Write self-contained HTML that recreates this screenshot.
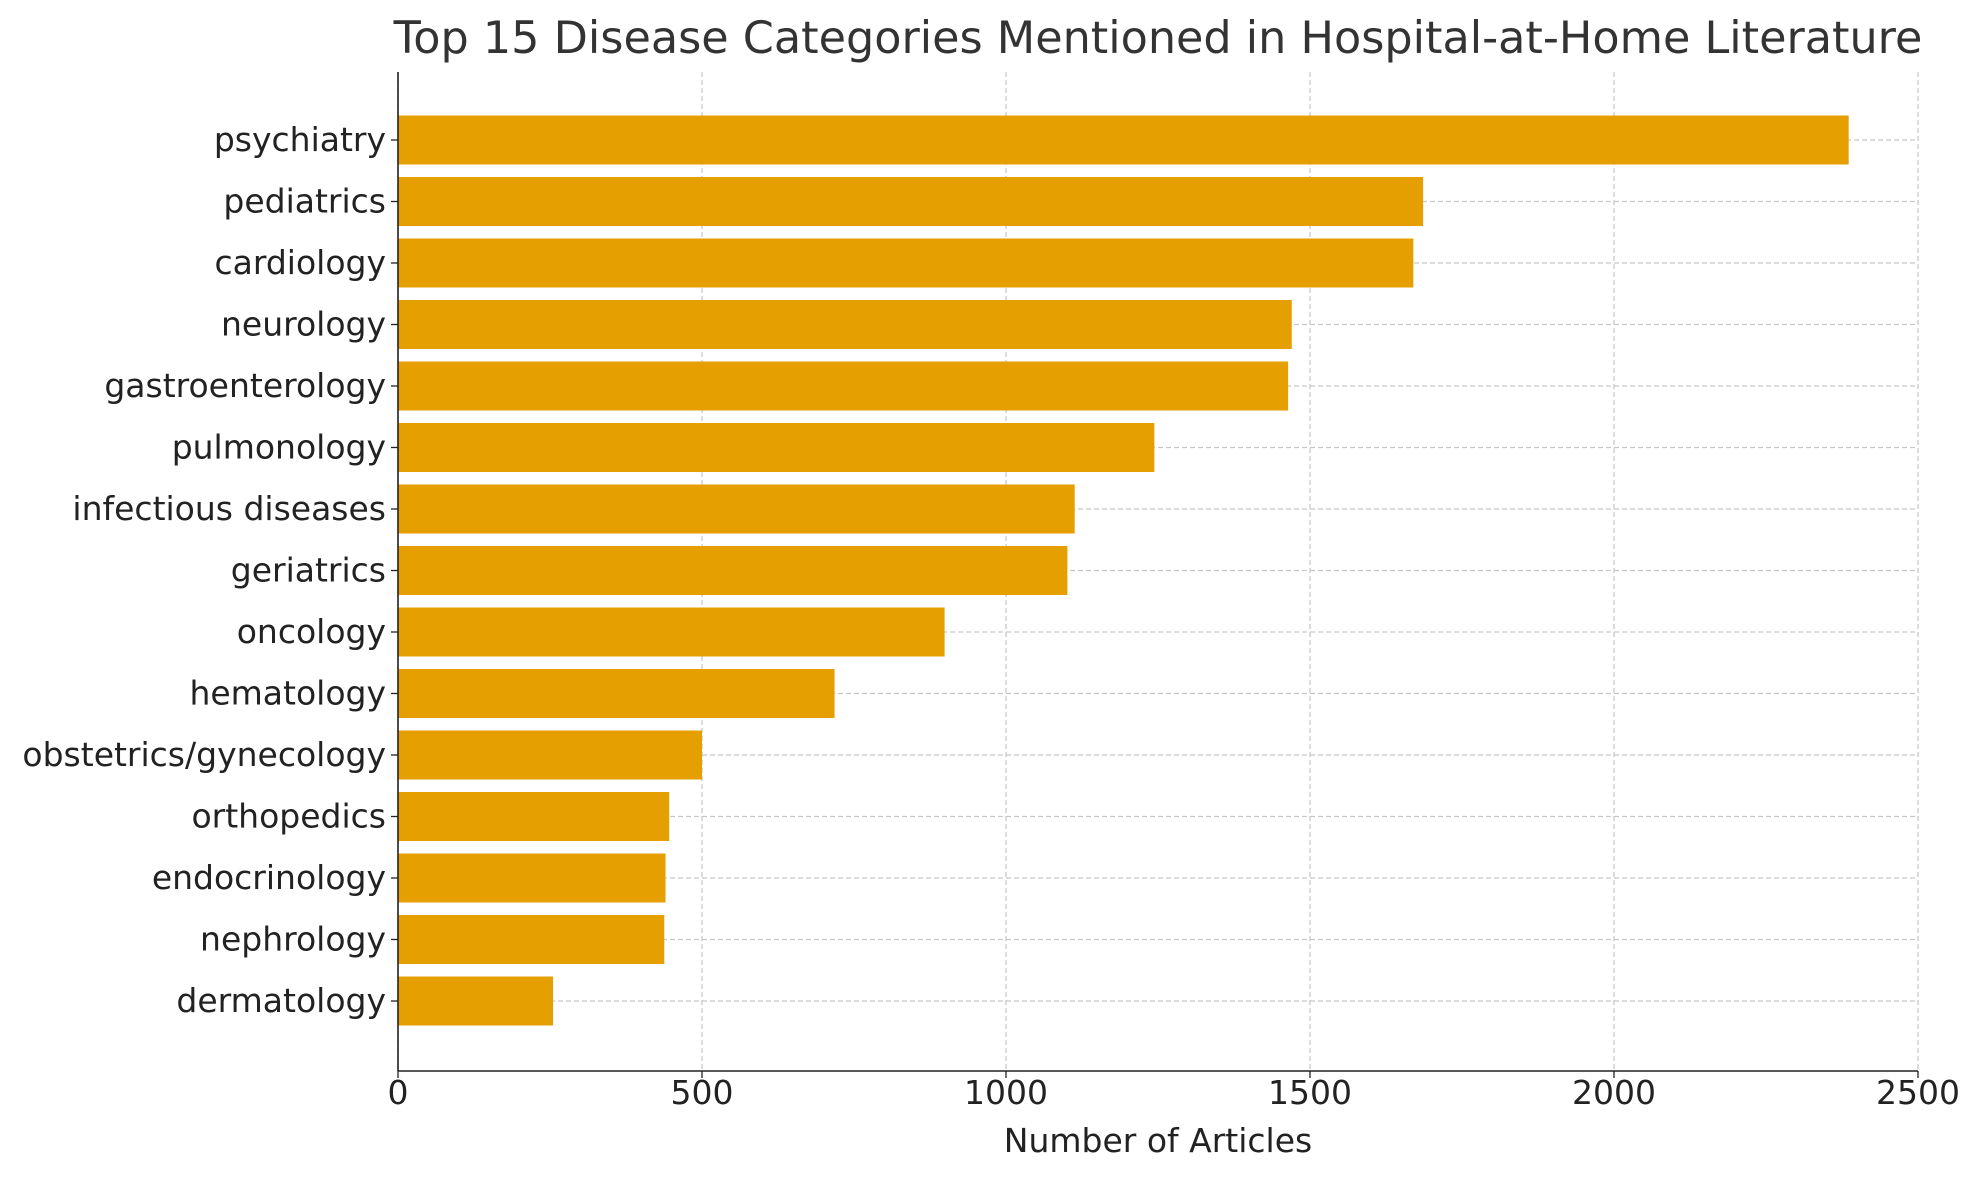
<!DOCTYPE html>
<html><head><meta charset="utf-8"><style>
html,body{margin:0;padding:0;background:#fff;}
svg{display:block;font-family:"DejaVu Sans","Liberation Sans",sans-serif;}
</style></head><body>
<svg id="chart" width="1980" height="1180" viewBox="0 0 1980 1180" xmlns="http://www.w3.org/2000/svg">
<text x="1158" y="53" font-size="44.5" fill="#333" text-anchor="middle">Top 15 Disease Categories Mentioned in Hospital-at-Home Literature</text>
<g id="grid"></g><g id="bars"></g><g id="axes"></g>
<text x="1158" y="1152" font-size="33" fill="#222" text-anchor="middle">Number of Articles</text>
</svg>
<script>
const categories = ["psychiatry","pediatrics","cardiology","neurology","gastroenterology","pulmonology","infectious diseases","geriatrics","oncology","hematology","obstetrics/gynecology","orthopedics","endocrinology","nephrology","dermatology"];
const values = [2386,1686,1670,1470,1464,1244,1113,1101,899,718,500,446,440,438,255];
const xTicks = [0,500,1000,1500,2000,2500];
const ns="http://www.w3.org/2000/svg";
const X0=398,X1=1918,XMAX=2500,TOP=72,BOT=1071,Y0=140,STEP=61.5,BH=49;
const x=v=>X0+(v/XMAX)*(X1-X0);
const y=i=>Y0+i*STEP;
function mk(t,a,p){const e=document.createElementNS(ns,t);for(const k in a)e.setAttribute(k,a[k]);p.appendChild(e);return e;}
const grid=document.getElementById('grid'),bars=document.getElementById('bars'),axes=document.getElementById('axes');
xTicks.forEach(t=>{
 const g=mk('line',{x1:x(t),x2:x(t),y1:TOP,y2:BOT,stroke:'#c8c8c8','stroke-width':1.3,'stroke-dasharray':'5,3'},grid);
 
 
 const tk=mk('line',{x1:x(t),x2:x(t),y1:BOT,y2:BOT+7,stroke:'#222','stroke-width':1.3},axes);
 
 
 const lb=mk('text',{x:x(t),y:1104,'font-size':33,fill:'#222','text-anchor':'middle'},axes);
 
 
 lb.textContent=t;
});
categories.forEach((c,i)=>{
 const g=mk('line',{x1:X0,x2:X1,y1:y(i),y2:y(i),stroke:'#c8c8c8','stroke-width':1.3,'stroke-dasharray':'5,3'},grid);
 
 
 const r=mk('rect',{x:X0,y:y(i)-BH/2,width:x(values[i])-X0,height:BH,fill:'#E69F00'},bars);
 
 
 const tk=mk('line',{x1:X0-7,x2:X0,y1:y(i),y2:y(i),stroke:'#222','stroke-width':1.3},axes);
 
 
 const lb=mk('text',{x:X0-12,y:y(i)+11,'font-size':33,fill:'#222','text-anchor':'end'},axes);
 
 
 lb.textContent=c;
});
const sl=mk('line',{x1:X0,x2:X0,y1:TOP,y2:BOT,stroke:'#222','stroke-width':1.6},axes);


const sb=mk('line',{x1:X0,x2:X1,y1:BOT,y2:BOT,stroke:'#222','stroke-width':1.6},axes);


</script>
</body></html>
